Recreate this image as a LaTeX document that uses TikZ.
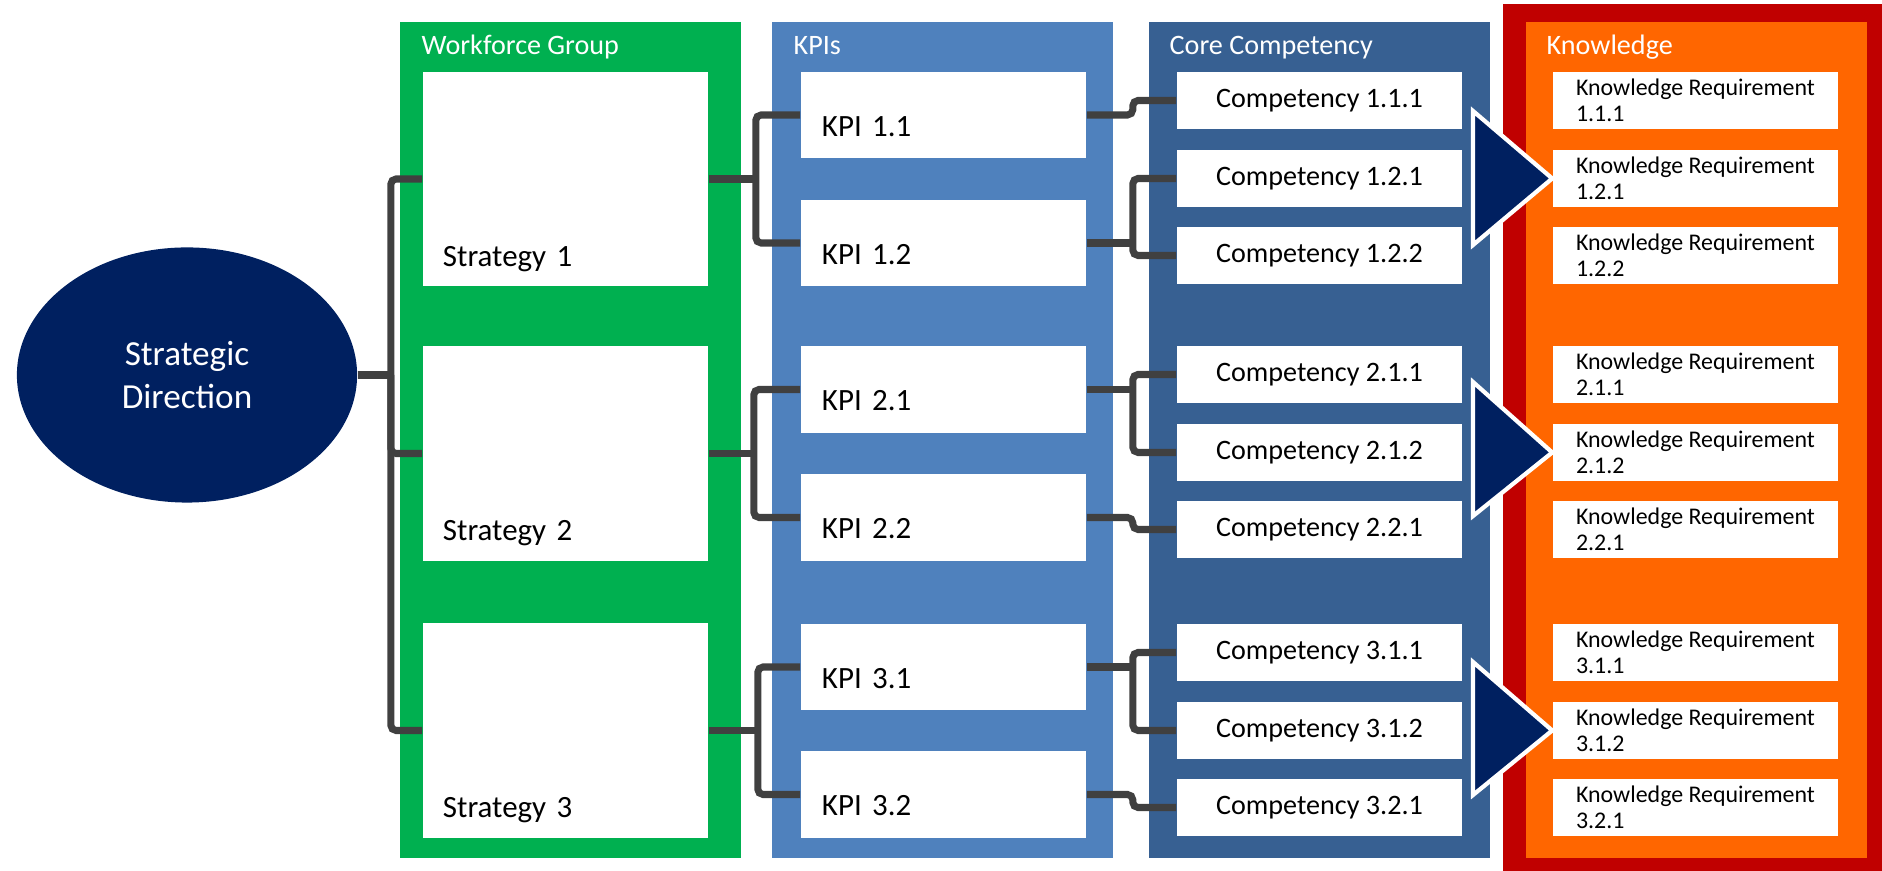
\documentclass[tikz,border=0pt]{standalone}
\usepackage{fontspec}
\setmainfont{Carlito}
\usetikzlibrary{shapes.geometric}

\definecolor{wfgreen}{HTML}{00B050}
\definecolor{kpiblue}{HTML}{4F81BD}
\definecolor{coreblue}{HTML}{376092}
\definecolor{knorange}{HTML}{FF6600}
\definecolor{knred}{HTML}{C00000}
\definecolor{navy}{HTML}{002060}
\definecolor{linegray}{HTML}{404040}

\tikzset{
  paneltitle/.style={anchor=base west, text=white, inner sep=0pt, font=\fontsize{8}{9.6}\selectfont},
  whitebox/.style={fill=white, inner sep=0pt, minimum width=2.85cm},
  stratbox/.style={whitebox, minimum height=2.14cm, text width=2.45cm, align=left, text height=49.5pt, text depth=0pt, font=\fontsize{8.8}{10.5}\selectfont},
  kpibox/.style={whitebox, minimum height=0.86cm, text width=2.43cm, align=left, text height=12pt, text depth=0pt, font=\fontsize{8.8}{10.5}\selectfont},
  corebox/.style={whitebox, minimum height=0.57cm, font=\fontsize{8}{9.6}\selectfont},
  knbox/.style={whitebox, minimum height=0.57cm, align=left, font=\fontsize{6.8}{7.4}\selectfont},
  conn/.style={draw=linegray, line width=2pt, rounded corners=1.5pt},
  bigarrow/.style={fill=navy, draw=white, line width=1.2pt}
}

\begin{document}
\begin{tikzpicture}[x=0.01cm, y=-0.01cm]
	\useasboundingbox (0,0) rectangle (1882,871);
	% column panels
	\fill[wfgreen] (400,22) rectangle (741,858);
	\fill[kpiblue] (772,22) rectangle (1113,858);
	\fill[coreblue] (1149,22) rectangle (1490,858);
	\fill[knred] (1503,4) rectangle (1882,871);
	\fill[knorange] (1526,22) rectangle (1867,858);
	\node[paneltitle] (wftitle) at (421,55) {Workforce Group};
	\node[paneltitle] (kpititle) at (793,55) {KPIs};
	\node[paneltitle] (coretitle) at (1169,55) {Core Competency};
	\node[paneltitle] (kntitle) at (1546,55) {Knowledge};
	% strategic direction
	\node[ellipse, fill=navy, minimum width=3.4cm, minimum height=2.55cm, inner sep=0pt, text=white, align=center, font=\fontsize{10}{12.2}\selectfont] (sd) at (187,375) {Strategic\\Direction};
	% strategies
	\node[stratbox] (s1) at (565.5,179) {Strategy 1};
	\node[stratbox] (s2) at (565.5,453.5) {Strategy 2};
	\node[stratbox] (s3) at (565.5,730.5) {Strategy 3};
	% kpis
	\node[kpibox] (k11) at (943.5,115) {KPI 1.1};
	\node[kpibox] (k12) at (943.5,243) {KPI 1.2};
	\node[kpibox] (k21) at (943.5,389.5) {KPI 2.1};
	\node[kpibox] (k22) at (943.5,517.5) {KPI 2.2};
	\node[kpibox] (k31) at (943.5,667) {KPI 3.1};
	\node[kpibox] (k32) at (943.5,794.5) {KPI 3.2};
	% core competencies
	\node[corebox] (c111) at (1319.5,100.5) {Competency 1.1.1};
	\node[corebox] (c121) at (1319.5,178.5) {Competency 1.2.1};
	\node[corebox] (c122) at (1319.5,255.5) {Competency 1.2.2};
	\node[corebox] (c211) at (1319.5,374.5) {Competency 2.1.1};
	\node[corebox] (c212) at (1319.5,452.5) {Competency 2.1.2};
	\node[corebox] (c221) at (1319.5,529.5) {Competency 2.2.1};
	\node[corebox] (c311) at (1319.5,652.5) {Competency 3.1.1};
	\node[corebox] (c312) at (1319.5,730.5) {Competency 3.1.2};
	\node[corebox] (c321) at (1319.5,807.5) {Competency 3.2.1};
	% knowledge requirements
	\node[knbox] (kn111) at (1695.5,100.5) {Knowledge Requirement\\1.1.1};
	\node[knbox] (kn121) at (1695.5,178.5) {Knowledge Requirement\\1.2.1};
	\node[knbox] (kn122) at (1695.5,255.5) {Knowledge Requirement\\1.2.2};
	\node[knbox] (kn211) at (1695.5,374.5) {Knowledge Requirement\\2.1.1};
	\node[knbox] (kn212) at (1695.5,452.5) {Knowledge Requirement\\2.1.2};
	\node[knbox] (kn221) at (1695.5,529.5) {Knowledge Requirement\\2.2.1};
	\node[knbox] (kn311) at (1695.5,652.5) {Knowledge Requirement\\3.1.1};
	\node[knbox] (kn312) at (1695.5,730.5) {Knowledge Requirement\\3.1.2};
	\node[knbox] (kn321) at (1695.5,807.5) {Knowledge Requirement\\3.2.1};
	% connectors
	\draw[conn] (sd.east) -- ++(33,0) coordinate (sdj);
	\draw[conn] (s1.west) -| (sdj) |- (s3.west);
	\draw[conn] (sdj) |- (s2.west);
	\draw[conn] (s1.east) -- ++(47,0) coordinate (s1j);
	\draw[conn] (k11.west) -| (s1j) |- (k12.west);
	\draw[conn] (s2.east) -- ++(45,0) coordinate (s2j);
	\draw[conn] (k21.west) -| (s2j) |- (k22.west);
	\draw[conn] (s3.east) -- ++(49,0) coordinate (s3j);
	\draw[conn] (k31.west) -| (s3j) |- (k32.west);
	\draw[conn] (k11.east) -- ++(46,0) |- (c111.west);
	\draw[conn] (k12.east) -- ++(46,0) coordinate (k12j);
	\draw[conn] (c121.west) -| (k12j) |- (c122.west);
	\draw[conn] (k21.east) -- ++(46,0) coordinate (k21j);
	\draw[conn] (c211.west) -| (k21j) |- (c212.west);
	\draw[conn] (k22.east) -- ++(46,0) |- (c221.west);
	\draw[conn] (k31.east) -- ++(46,0) coordinate (k31j);
	\draw[conn] (c311.west) -| (k31j) |- (c312.west);
	\draw[conn] (k32.east) -- ++(46,0) |- (c321.west);
	% arrows into knowledge
	\draw[bigarrow] (1473,111) -- (kn121.west) -- (1473,245) -- cycle;
	\draw[bigarrow] (1473,382) -- (kn212.west) -- (1473,516) -- cycle;
	\draw[bigarrow] (1473,662) -- (kn312.west) -- (1473,795) -- cycle;
\end{tikzpicture}
\end{document}
